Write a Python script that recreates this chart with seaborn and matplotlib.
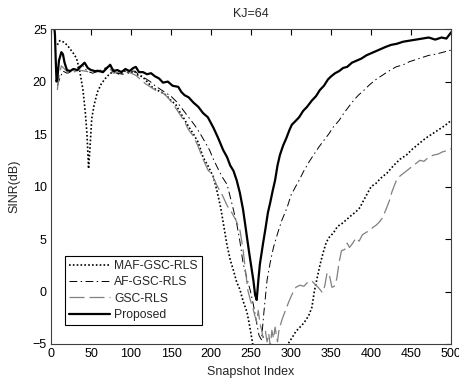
import numpy as np
import pandas as pd
import matplotlib
matplotlib.use("Agg")
import matplotlib.pyplot as plt
import seaborn as sns

# snapshot positions and SINR (dB)
prop_x = [4, 5, 6, 7, 8, 10, 13, 15, 17, 20, 24, 28, 33, 38, 42, 46, 50, 55, 60, 65, 70, 74, 78, 83,
          88, 93, 98, 103, 106, 110, 115, 120, 125, 130, 135, 140, 146, 152, 159, 163, 167, 172, 178,
          184, 190, 196, 203, 209, 215, 220, 224, 228, 232, 236, 240, 243, 245, 248, 251, 253, 255,
          257, 259, 261, 263, 265, 268, 271, 274, 277, 280, 283, 286, 290, 294, 298, 301, 305, 310,
          315, 320, 326, 331, 336, 341, 346, 350, 355, 360, 365, 370, 376, 382, 388, 394, 400, 406,
          412, 418, 425, 432, 440, 448, 456, 464, 472, 480, 488, 494, 500]
prop_y = [25.3, 24.5, 22.0, 20.0, 20.3, 22.0, 22.8, 22.6, 21.8, 21.1, 21.0, 21.2, 21.1, 21.5, 21.8,
          21.3, 21.1, 21.0, 21.0, 20.9, 21.3, 21.6, 21.0, 21.1, 20.9, 21.2, 21.0, 21.3, 21.4, 20.9,
          20.9, 20.7, 20.8, 20.5, 20.3, 19.9, 20.0, 19.6, 19.5, 19.0, 18.7, 18.5, 18.0, 17.6, 17.0,
          16.6, 15.6, 14.6, 13.5, 12.8, 12.0, 11.5, 10.6, 9.4, 7.8, 6.2, 5.1, 3.5, 2.0, 1.0, -0.3,
          -0.8, 1.0, 2.6, 3.6, 4.6, 6.0, 7.5, 8.5, 9.6, 10.6, 12.0, 13.0, 13.9, 14.6, 15.4, 15.9,
          16.2, 16.6, 17.2, 17.6, 18.2, 18.6, 19.2, 19.6, 20.2, 20.5, 20.8, 21.0, 21.3, 21.4, 21.8,
          22.0, 22.2, 22.5, 22.7, 22.9, 23.1, 23.3, 23.5, 23.6, 23.8, 23.9, 24.0, 24.1, 24.2, 24.0,
          24.2, 24.1, 24.7]

maf_x = [8, 11, 15, 20, 25, 28, 32, 36, 40, 43, 45, 47, 49, 51, 54, 58, 63, 68, 74, 80, 86, 92, 98,
         104, 109, 114, 120, 126, 132, 138, 144, 150, 156, 161, 166, 172, 178, 184, 190, 196, 203,
         208, 212, 216, 220, 224, 228, 232, 236, 240, 245, 248, 251, 254, 260, 270, 282, 293, 297,
         302, 306, 311, 316, 322, 326, 329, 332, 336, 340, 344, 348, 353, 358, 364, 370, 376, 381,
         386, 390, 395, 400, 406, 412, 420, 428, 436, 444, 452, 460, 468, 476, 484, 492, 500]
maf_y = [23.5, 23.9, 23.8, 23.5, 23.0, 22.7, 22.2, 21.0, 19.2, 17.0, 15.0, 11.7, 14.0, 16.5, 17.8,
         19.0, 19.8, 20.3, 20.8, 20.9, 20.7, 21.0, 20.8, 21.0, 20.6, 20.5, 20.0, 19.5, 19.2, 19.0,
         18.7, 18.2, 17.8, 17.1, 16.5, 15.7, 15.0, 14.2, 12.8, 12.0, 10.9, 9.4, 8.0, 6.2, 4.4, 3.0,
         2.0, 0.9, 0.2, -0.9, -2.0, -3.2, -4.5, -6.0, -7.5, -8.0, -7.0, -5.3, -4.9, -4.3, -3.8,
         -3.4, -3.0, -2.3, -1.5, 0.0, 1.1, 2.5, 3.7, 4.7, 5.2, 5.6, 6.2, 6.5, 6.9, 7.3, 7.6, 8.0,
         8.6, 9.3, 10.0, 10.3, 10.8, 11.3, 12.0, 12.6, 13.0, 13.6, 14.1, 14.6, 15.0, 15.4, 15.8, 16.3]

af_x = [8, 11, 15, 20, 24, 30, 39, 45, 52, 60, 68, 75, 82, 90, 98, 105, 112, 118, 124, 130, 136,
        142, 150, 158, 166, 174, 180, 186, 192, 198, 203, 208, 214, 220, 226, 232, 236, 240, 245,
        249, 253, 257, 260, 263, 266, 270, 274, 278, 283, 288, 295, 300, 305, 310, 316, 322, 328,
        335, 341, 347, 353, 360, 366, 372, 378, 384, 390, 398, 406, 414, 422, 431, 440, 448, 456,
        464, 472, 480, 490, 500]
af_y = [19.6, 20.3, 21.0, 20.8, 20.9, 21.2, 21.6, 21.0, 20.8, 21.0, 21.3, 21.5, 20.8, 20.7, 21.0,
        21.0, 20.5, 20.3, 20.0, 19.6, 19.3, 19.0, 18.6, 18.0, 17.2, 16.4, 15.8, 15.1, 14.3, 13.5,
        12.6, 11.8, 10.9, 10.2, 8.4, 6.5, 4.8, 2.7, 1.2, 0.1, -1.3, -3.0, -4.2, -4.6, -2.0, 1.1,
        2.8, 4.2, 5.5, 6.7, 8.0, 9.2, 9.9, 10.6, 11.5, 12.3, 13.0, 13.8, 14.4, 15.0, 15.7, 16.3,
        17.0, 17.6, 18.2, 18.7, 19.1, 19.7, 20.2, 20.6, 21.0, 21.4, 21.6, 21.9, 22.1, 22.3, 22.5,
        22.6, 22.8, 23.0]

gsc_x = [8, 10, 13, 17, 22, 28, 35, 42, 50, 58, 66, 72, 78, 85, 92, 100, 106, 112, 118, 124, 130,
         136, 142, 148, 154, 160, 166, 172, 178, 184, 190, 196, 202, 208, 214, 220, 226, 231, 236,
         240, 243, 246, 249, 252, 255, 257, 259, 261, 263, 265, 268, 270, 272, 274, 276, 278, 280,
         283, 285, 289, 293, 297, 301, 306, 311, 316, 321, 326, 331, 335, 339, 342, 345, 348, 351,
         354, 357, 360, 363, 367, 370, 373, 377, 381, 385, 389, 393, 398, 402, 406, 410, 414, 419,
         423, 426, 431, 436, 441, 446, 451, 456, 461, 466, 472, 478, 484, 489, 494, 500]
gsc_y = [19.2, 20.5, 21.5, 21.2, 20.8, 20.9, 21.1, 21.0, 20.9, 21.1, 21.0, 21.4, 20.8, 20.9, 21.1,
         20.8, 20.6, 20.2, 19.8, 19.5, 19.2, 19.0, 18.8, 18.3, 17.7, 17.0, 16.3, 15.4, 14.8, 13.8,
         12.6, 11.6, 11.0, 10.0, 9.2, 8.2, 7.5, 6.8, 5.9, 4.0, 2.0, 0.1, -0.8, -1.5, -2.4, -2.9,
         -1.8, -3.0, -3.6, -4.4, -3.8, -4.8, -4.0, -5.2, -3.7, -4.5, -3.4, -4.8, -3.6, -2.6, -1.8,
         -1.0, -0.3, 0.4, 0.6, 0.5, 0.9, 1.0, 0.6, 0.3, -0.1, 0.5, 1.8, 1.5, 0.4, 0.5, 1.2, 2.8,
         3.9, 4.0, 4.6, 4.2, 4.6, 5.1, 4.8, 5.4, 5.6, 5.8, 6.1, 6.3, 6.6, 7.0, 7.9, 8.7, 9.5, 10.5,
         11.0, 11.3, 11.6, 11.9, 12.2, 12.5, 12.4, 12.8, 13.0, 13.1, 13.3, 13.4, 13.6]

x_ticks = [0, 50, 100, 150, 200, 250, 300, 350, 400, 450, 500]
y_ticks = [-5, 0, 5, 10, 15, 20, 25]

sns.set_style("white")
plt.rcParams['font.family'] = ['Liberation Sans', 'DejaVu Sans']
plt.rcParams['font.size'] = 9

fig = plt.figure(figsize=(4.59, 3.78), dpi=100)
ax = fig.add_axes([0.111, 0.09, 0.872, 0.833])

sns.lineplot(x=maf_x, y=maf_y, ax=ax, color='black', lw=1.2,
             linestyle=(0, (1, 1.3)), label='MAF-GSC-RLS')
sns.lineplot(x=af_x, y=af_y, ax=ax, color='black', lw=0.7,
             linestyle=(0, (8, 3.5, 1.5, 3.5)), label='AF-GSC-RLS')
sns.lineplot(x=gsc_x, y=gsc_y, ax=ax, color='#808080', lw=0.9,
             linestyle=(0, (12, 4)), label='GSC-RLS')
sns.lineplot(x=prop_x, y=prop_y, ax=ax, color='black', lw=1.6,
             linestyle='-', label='Proposed')

ax.set_xlim(0, 500)
ax.set_ylim(-5, 25)
ax.set_xticks(x_ticks)
ax.set_yticks(y_ticks)
ax.tick_params(direction='in', length=4, width=0.8, top=True, right=True,
               labelsize=9, pad=3, colors='black')
for s in ax.spines.values():
    s.set_visible(True)
    s.set_color('#404040')
    s.set_linewidth(0.8)

ax.set_title('KJ=64', fontsize=9, pad=9)
ax.set_xlabel('Snapshot Index', fontsize=9, labelpad=4)
ax.set_ylabel('SINR(dB)', fontsize=9, labelpad=9)

leg = ax.legend(loc='lower left', bbox_to_anchor=(0.035, 0.06), borderaxespad=0,
                fontsize=8.7, handlelength=3.4, handletextpad=0.3, labelspacing=0.35,
                fancybox=False, framealpha=1, borderpad=0.35)
leg.get_frame().set_edgecolor('black')
leg.get_frame().set_linewidth(0.8)

fig.savefig('out.png', dpi=100)
